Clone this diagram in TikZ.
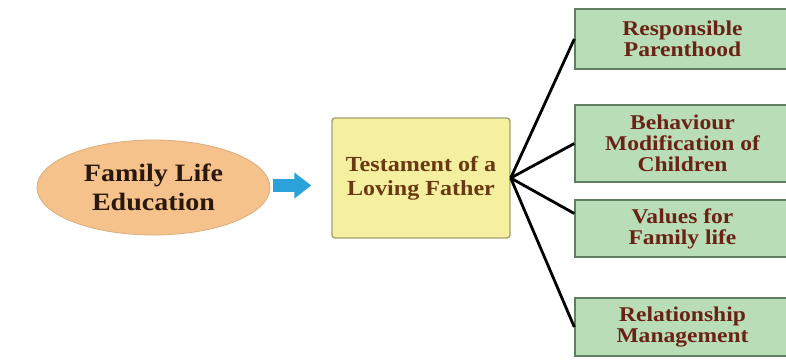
\documentclass[tikz,border=0pt]{standalone}
\usepackage{fontspec}
\newfontfamily\lblfont{Liberation Serif}[FakeStretch=1.12]
\usetikzlibrary{arrows.meta,shapes.geometric}
\definecolor{ellfill}{HTML}{F5C28C}
\definecolor{elldraw}{HTML}{D9AE80}
\definecolor{ylwfill}{HTML}{F5EFA0}
\definecolor{ylwdraw}{HTML}{A8A070}
\definecolor{grnfill}{HTML}{B9DDB7}
\definecolor{grndraw}{HTML}{5F7F60}
\definecolor{arrblue}{HTML}{2BA3DA}
\definecolor{txtdark}{HTML}{2A180C}
\definecolor{txtbrown}{HTML}{6A3812}
\definecolor{txtred}{HTML}{6A2216}
\tikzset{
  ellnode/.style={ellipse, fill=ellfill, draw=elldraw, line width=0.8pt,
    minimum width=233pt, minimum height=95pt, inner sep=0pt,
    font=\lblfont\bfseries\fontsize{25}{29}\selectfont, text=txtdark, align=center},
  ylwbox/.style={rectangle, rounded corners=3pt, fill=ylwfill, draw=ylwdraw, line width=1.4pt,
    minimum width=178pt, minimum height=120pt, inner sep=0pt,
    font=\lblfont\bfseries\fontsize{21.5}{24}\selectfont, text=txtbrown, align=center},
  grnbox/.style={rectangle, fill=grnfill, draw=grndraw, line width=1.4pt,
    minimum width=215pt, inner sep=0pt,
    font=\lblfont\bfseries\fontsize{21}{21}\selectfont, text=txtred, align=center},
  conn/.style={draw=black, line width=2.8pt},
  bluearrow/.style={draw=arrblue, line width=13pt, -{Triangle[length=17pt,width=25pt]}}
}
\begin{document}
\begin{tikzpicture}[x=1pt,y=-1pt]
\useasboundingbox (0,0) rectangle (786,360);
\clip (0,0) rectangle (786,360);
\fill[white] (0,0) rectangle (786,360);
\node[ellnode] (fle) at (153.5,187.5) {Family Life\\Education};
\node[ylwbox] (tlf) at (421,178) {Testament of a\\Loving Father};
\node[grnbox, minimum height=60pt] (rp) at (682.5,39) {Responsible\\Parenthood};
\node[grnbox, minimum height=77pt] (bm) at (682.5,143.5) {Behaviour\\Modification of\\Children};
\node[grnbox, minimum height=57pt] (vf) at (682.5,228.5) {Values for\\Family life};
\node[grnbox, minimum height=58pt] (rm) at (682.5,327) {Relationship\\Management};
\draw[bluearrow, shorten <=3pt, shorten >=20pt] ([yshift=2pt]fle.east) -- ([yshift=2pt]tlf.west |- fle.east);
\draw[conn] (tlf.east) -- (rp.west);
\draw[conn] (tlf.east) -- (bm.west);
\draw[conn] (tlf.east) -- ([yshift=15pt]vf.west);
\draw[conn] (tlf.east) -- (rm.west);
\end{tikzpicture}
\end{document}
